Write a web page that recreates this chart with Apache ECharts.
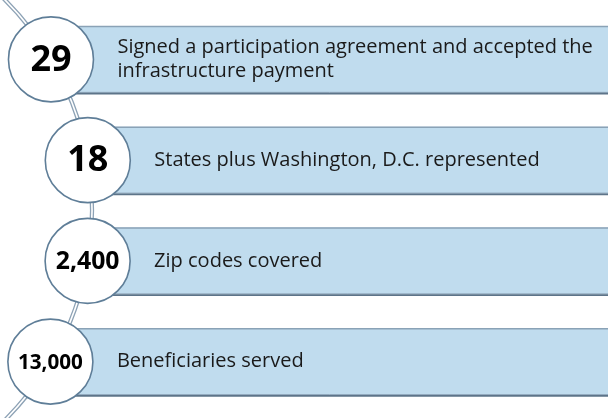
<!DOCTYPE html>
<html>
<head>
<meta charset="utf-8">
<script src="https://cdn.jsdelivr.net/npm/echarts@6/dist/echarts.min.js"></script>
<style>
  html, body { margin: 0; padding: 0; background: #fff; }
  #chart { width: 608px; height: 418px; }
</style>
</head>
<body>
<div id="chart"></div>
<script>
var figures = ['29', '18', '2,400', '13,000'];
var captions = [
    'Signed a participation agreement and accepted the infrastructure payment',
    'States plus Washington, D.C. represented',
    'Zip codes covered',
    'Beneficiaries served'
];

var dom = document.getElementById('chart');
var myChart = echarts.init(dom);

// big arc the circles sit on (pixels)
var arc = { cx: -205, cy: 210, r: 297 };
var fontName = '"Open Sans", "Noto Sans", sans-serif';

function arcX(y) {
    var dy = y - arc.cy;
    return arc.cx + Math.sqrt(arc.r * arc.r - dy * dy);
}

function renderArc(params, api) {
    return {
        type: 'group',
        children: [
            {
                type: 'arc',
                shape: { cx: arc.cx, cy: arc.cy, r: arc.r, startAngle: -0.9, endAngle: 0.9, clockwise: true },
                style: { stroke: '#8da2b5', lineWidth: 4.2, fill: null }
            },
            {
                type: 'arc',
                shape: { cx: arc.cx, cy: arc.cy, r: arc.r, startAngle: -0.9, endAngle: 0.9, clockwise: true },
                style: { stroke: '#ffffff', lineWidth: 1.6, fill: null }
            }
        ]
    };
}

function renderItem(params, api) {
    var idx = api.value(0);
    var center = api.coord([0, idx]);
    var y = center[1];
    var x = arcX(y);
    var right = api.coord([608, idx])[0];
    var h = api.size([0, 1])[1] * 0.665;
    var top = y - h / 2;
    var r = 42.5;
    var fig = figures[idx];
    var fs = Math.min(36, 124 / fig.length);
    var tx = x + r + 24;
    return {
        type: 'group',
        children: [
            {
                type: 'rect',
                shape: { x: x, y: top, width: right - x, height: h },
                style: { fill: '#c0dcee' }
            },
            {
                type: 'line',
                shape: { x1: x, y1: top + 0.5, x2: right, y2: top + 0.5 },
                style: { stroke: '#8aa2b6', lineWidth: 1.5 }
            },
            {
                type: 'line',
                shape: { x1: x, y1: top + h - 0.5, x2: right, y2: top + h - 0.5 },
                style: { stroke: '#8fa6ba', lineWidth: 1 }
            },
            {
                type: 'line',
                shape: { x1: x, y1: top + h + 0.8, x2: right, y2: top + h + 0.8 },
                style: { stroke: '#5d7489', lineWidth: 1.6 }
            },
            {
                type: 'circle',
                shape: { cx: x, cy: y, r: r },
                style: { fill: '#ffffff', stroke: '#5f7e98', lineWidth: 1.6 }
            },
            {
                type: 'text',
                style: {
                    x: x, y: y + 1,
                    text: fig,
                    align: 'center', verticalAlign: 'middle',
                    font: 'bold ' + fs + 'px ' + fontName,
                    fill: '#000000'
                }
            },
            {
                type: 'text',
                style: {
                    x: tx, y: y,
                    text: captions[idx],
                    width: right - tx - 4,
                    overflow: 'break',
                    lineHeight: 24,
                    align: 'left', verticalAlign: 'middle',
                    font: '20px ' + fontName,
                    fill: '#1a1a1a'
                }
            }
        ]
    };
}

var option = {
    animation: false,
    grid: { left: 0, right: 0, top: 9, bottom: 6 },
    xAxis: { type: 'value', min: 0, max: 608, show: false },
    yAxis: { type: 'category', inverse: true, data: captions, show: false },
    series: [
        {
            type: 'custom',
            name: 'arc',
            renderItem: renderArc,
            data: [[0]],
            silent: true,
            z: 1
        },
        {
            type: 'custom',
            name: 'items',
            renderItem: renderItem,
            data: figures.map(function (f, i) { return [i]; }),
            encode: { y: 0 },
            z: 2
        }
    ]
};

myChart.setOption(option);
</script>
</body>
</html>
